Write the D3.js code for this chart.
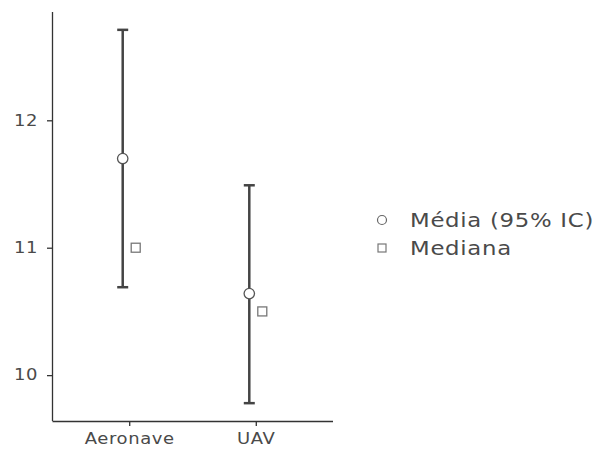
<!DOCTYPE html>
<html>
<head>
<meta charset="utf-8">
<script src="https://cdn.jsdelivr.net/npm/d3@7"></script>
<style>
  body { margin: 0; background: #fff; }
  text { font-family: "DejaVu Sans", sans-serif; }
</style>
</head>
<body>
<svg id="chart" width="599" height="455"></svg>
<script>
const groups = ["Aeronave", "UAV"];
const means = [11.70, 10.64];
const lower = [10.69, 9.78];
const upper = [12.71, 11.49];
const medians = [11.0, 10.5];
const yTicks = [10, 11, 12];
const legendLabels = ["Média (95% IC)", "Mediana"];

const svg = d3.select("#chart");
const margin = { left: 52, top: 12, right: 266, bottom: 34 };
const width = 599 - margin.left - margin.right;
const height = 455 - margin.top - margin.bottom;
const stretch = 1.2; // text in the picture is a bit wide

const g = svg.append("g")
  .attr("transform", "translate(" + margin.left + "," + margin.top + ")");

const x = d3.scalePoint()
  .domain(groups)
  .range([0, width])
  .padding(0.61);

const y = d3.scaleLinear()
  .domain([9.64, 12.85])
  .range([height, 0]);

const dodge = 6.5;

// axes
const yAxis = g.append("g")
  .call(d3.axisLeft(y).tickValues(yTicks).tickSize(5).tickPadding(9).tickFormat(d3.format("d")));
const xAxis = g.append("g")
  .attr("transform", "translate(0," + height + ")")
  .call(d3.axisBottom(x).tickSize(5).tickPadding(7));

[yAxis, xAxis].forEach(a => {
  a.select(".domain").attr("stroke", "#333").attr("stroke-width", 1.3);
  a.selectAll(".tick line").attr("stroke", "#333").attr("stroke-width", 1.3);
  a.selectAll(".tick text")
    .attr("fill", "#4a4a4a")
    .style("font-size", "15px")
    .style("letter-spacing", "0.5px");
});
yAxis.selectAll(".tick text")
  .attr("x", null)
  .attr("transform", "translate(-14,0) scale(" + stretch + ",1)");
xAxis.selectAll(".tick text")
  .attr("transform", "scale(" + stretch + ",1)");
yAxis.select(".domain").attr("d", "M0.5," + height + "V0");
xAxis.select(".domain").attr("d", "M0.5,0.5H" + width);

// error bars
const bars = g.append("g").selectAll("g")
  .data(groups)
  .join("g")
  .attr("transform", d => "translate(" + (x(d) - dodge) + ",0)");

bars.append("line")
  .attr("y1", (d, i) => y(lower[i]))
  .attr("y2", (d, i) => y(upper[i]))
  .attr("stroke", "#444")
  .attr("stroke-width", 2.5);

bars.selectAll(".cap")
  .data((d, i) => [lower[i], upper[i]])
  .join("line")
  .attr("class", "cap")
  .attr("x1", -5.5).attr("x2", 5.5)
  .attr("y1", v => y(v)).attr("y2", v => y(v))
  .attr("stroke", "#444")
  .attr("stroke-width", 2.5);

bars.append("circle")
  .attr("cy", (d, i) => y(means[i]))
  .attr("r", 5.2)
  .attr("fill", "#fff")
  .attr("stroke", "#555")
  .attr("stroke-width", 1.3);

// medians
g.append("g").selectAll("rect")
  .data(groups)
  .join("rect")
  .attr("x", d => x(d) + dodge - 4.5)
  .attr("y", (d, i) => y(medians[i]) - 4.5)
  .attr("width", 9)
  .attr("height", 9)
  .attr("fill", "#fff")
  .attr("stroke", "#777")
  .attr("stroke-width", 1.3);

// legend
const legend = svg.append("g").attr("transform", "translate(382,220)");
const items = legend.selectAll("g")
  .data(legendLabels)
  .join("g")
  .attr("transform", (d, i) => "translate(0," + (i * 28) + ")");

items.filter((d, i) => i === 0).append("circle")
  .attr("r", 4.5).attr("fill", "#fff").attr("stroke", "#666").attr("stroke-width", 1.2);
items.filter((d, i) => i === 1).append("rect")
  .attr("x", -4).attr("y", -4).attr("width", 8).attr("height", 8)
  .attr("fill", "#fff").attr("stroke", "#777").attr("stroke-width", 1.2);
items.append("text")
  .attr("transform", "translate(28,7) scale(" + stretch + ",1)")
  .attr("fill", "#4a4a4a")
  .style("font-size", "19px")
  .style("letter-spacing", "0.6px")
  .text(d => d);
</script>
</body>
</html>
